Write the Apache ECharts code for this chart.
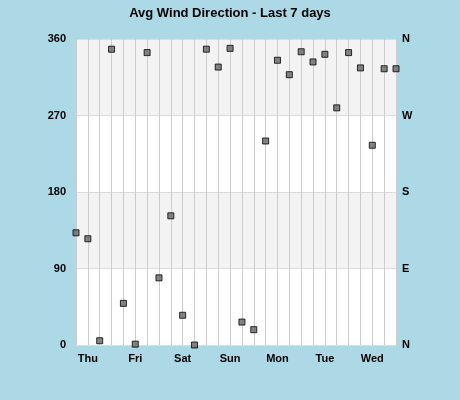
<!DOCTYPE html>
<html><head><meta charset="utf-8">
<script src="https://cdn.jsdelivr.net/npm/echarts@6/dist/echarts.min.js"></script>
<style>html,body{margin:0;padding:0;background:#add8e6}#c{width:460px;height:400px}</style>
</head><body><div id="c"></div>
<script>
const dayLabels = ['Thu','Fri','Sat','Sun','Mon','Tue','Wed'];
const directions = [132,125,5,348,49,1,344,79,152,35,0,348,327,349,27,18,240,335,318,345,333,342,279,344,326,235,325,325];
const compassTicks = {0:'N',90:'E',180:'S',270:'W',360:'N'};
const chart = echarts.init(document.getElementById('c'));
const font = 'Arial, Liberation Sans, sans-serif';
chart.setOption({
  backgroundColor:'#add8e6',
  title:{text:'Avg Wind Direction - Last 7 days',left:'center',top:2,textStyle:{fontFamily:font,fontSize:13,fontWeight:'bold',color:'#000'}},
  grid:{left:76,right:64,top:39,bottom:55},
  xAxis:{type:'value',min:0,max:directions.length-1,interval:1,
    axisLine:{show:false},axisTick:{show:false},
    splitLine:{show:true,lineStyle:{color:'#cccccc',width:1}},
    axisLabel:{fontFamily:font,fontSize:11,fontWeight:'bold',color:'#000',margin:8,showMinLabel:true,showMaxLabel:true,
      formatter:v=>((v-1)%4===0?dayLabels[(v-1)/4]:'')}},
  yAxis:[{type:'value',min:0,max:360,interval:90,
    axisLine:{show:false},axisTick:{show:false},
    splitLine:{show:true,lineStyle:{color:'#dddddd'}},
    splitArea:{show:true,areaStyle:{color:['#ffffff','#f3f3f3']}},
    axisLabel:{fontFamily:font,fontSize:11,fontWeight:'bold',color:'#000',margin:10}},
   {type:'value',min:0,max:360,interval:90,position:'right',
    axisLine:{show:false},axisTick:{show:false},splitLine:{show:false},
    axisLabel:{fontFamily:font,fontSize:11,fontWeight:'bold',color:'#000',margin:6,formatter:v=>compassTicks[v]}}],
  series:[{type:'scatter',symbol:'rect',symbolSize:6,clip:true,
    itemStyle:{color:'#666',borderColor:'#000',borderWidth:1},
    data:directions.map((d,i)=>[i,d])}]
});
</script></body></html>
